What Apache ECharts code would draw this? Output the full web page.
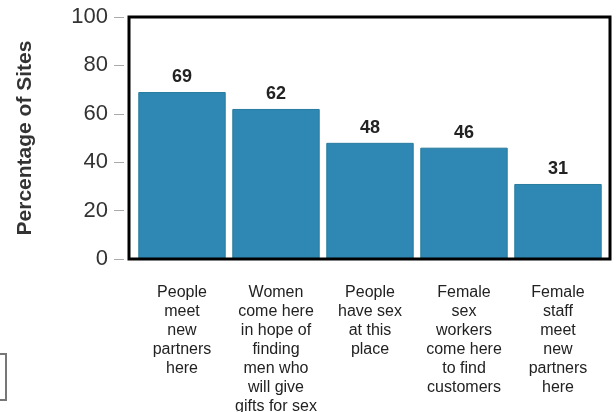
<!DOCTYPE html>
<html>
<head>
<meta charset="utf-8">
<script src="https://cdn.jsdelivr.net/npm/echarts@6/dist/echarts.min.js"></script>
<style>
  html, body { margin: 0; padding: 0; background: #fff; }
  #chart { width: 616px; height: 412px; }
</style>
</head>
<body>
<div id="chart"></div>
<script>
const categories = [
  'People\nmeet\nnew\npartners\nhere',
  'Women\ncome here\nin hope of\nfinding\nmen who\nwill give\ngifts for sex',
  'People\nhave sex\nat this\nplace',
  'Female\nsex\nworkers\ncome here\nto find\ncustomers',
  'Female\nstaff\nmeet\nnew\npartners\nhere'
]
const percentSites = [69, 62, 48, 46, 31]
const yTicks = [0, 20, 40, 60, 80, 100]

const font = 'Liberation Sans, Arial, sans-serif'
const chart = echarts.init(document.getElementById('chart'))

chart.setOption({
  animation: false,
  grid: [
    // bars
    { left: 135, right: 11, top: 17, bottom: 153, containLabel: false, outerBoundsMode: 'none' },
    // black frame + y axis
    { left: 129, right: 6, top: 17, bottom: 153, show: true, containLabel: false, outerBoundsMode: 'none',
      borderColor: '#000', borderWidth: 3, backgroundColor: 'transparent', z: 5 }
  ],
  xAxis: [{
    type: 'category',
    gridIndex: 0,
    data: categories,
    offset: 6,
    axisLine: { show: false },
    axisTick: { alignWithLabel: true, length: 8, lineStyle: { color: '#aaa' } },
    axisLabel: {
      interval: 0, margin: 18, fontFamily: font, fontSize: 16,
      lineHeight: 19, color: '#222', align: 'center'
    }
  }, {
    type: 'category',
    gridIndex: 1,
    data: ['a'],
    show: false
  }],
  yAxis: [{
    type: 'value',
    gridIndex: 0,
    min: 0, max: 100,
    show: false
  }, {
    type: 'value',
    gridIndex: 1,
    min: yTicks[0], max: yTicks[yTicks.length - 1], interval: 20,
    offset: 5,
    name: 'Percentage of Sites',
    nameLocation: 'middle',
    nameGap: 88,
    nameTextStyle: { fontFamily: font, fontSize: 21, fontWeight: 'bold', color: '#333' },
    axisLine: { show: false },
    axisTick: { show: true, length: 10, lineStyle: { color: '#aaa' } },
    axisLabel: { margin: 16, fontFamily: font, fontSize: 22, color: '#333' },
    splitLine: { show: false }
  }],
  series: [{
    type: 'bar',
    xAxisIndex: 0,
    yAxisIndex: 0,
    data: percentSites,
    barCategoryGap: '7%',
    itemStyle: { color: '#2f87b3', borderColor: '#287c9e', borderWidth: 1 },
    label: {
      show: true, position: 'top', distance: 6,
      fontFamily: font, fontSize: 18, fontWeight: 'bold', color: '#222'
    }
  }],
  graphic: [{
    type: 'rect',
    shape: { x: -10, y: 354, width: 16, height: 46 },
    style: { fill: 'none', stroke: '#777', lineWidth: 2 }
  }]
})
</script>
</body>
</html>
